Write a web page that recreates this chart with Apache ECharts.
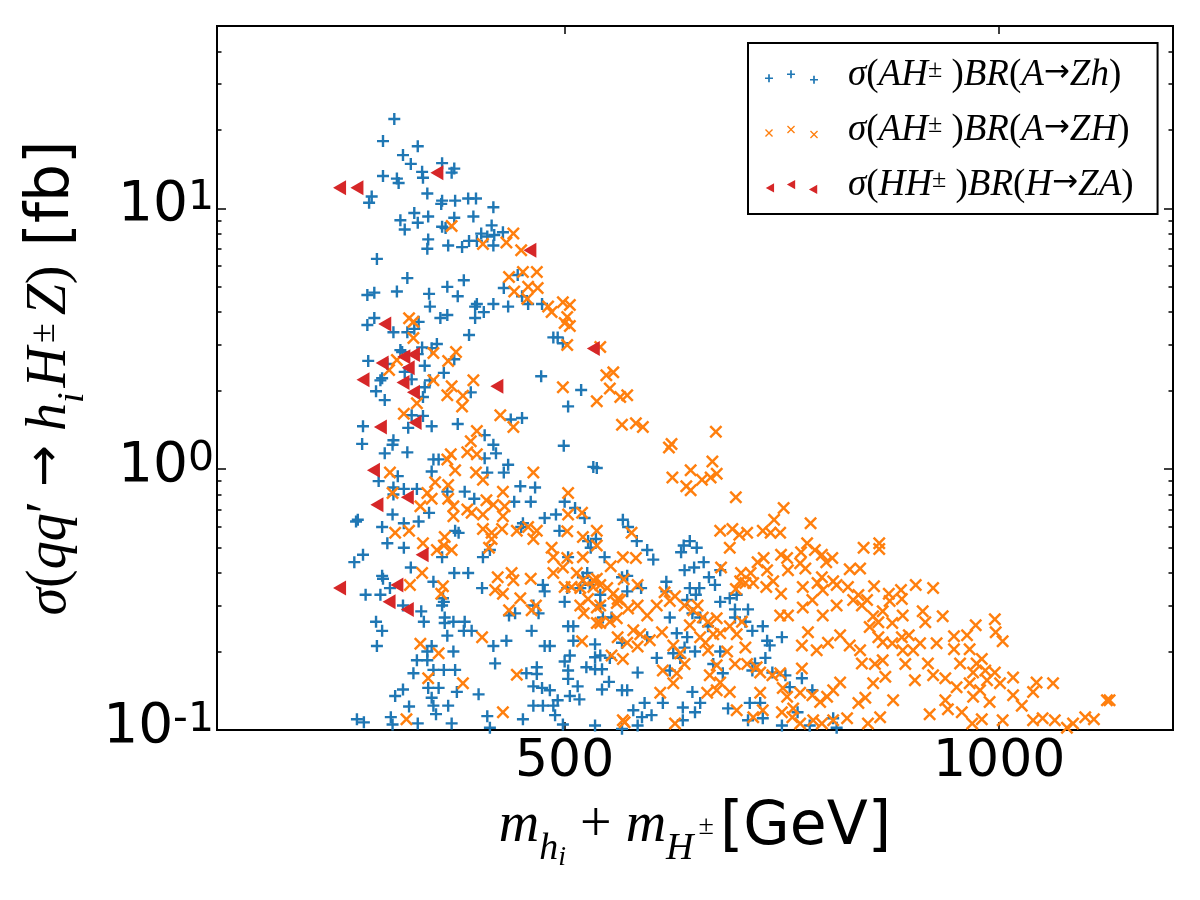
<!DOCTYPE html>
<html><head><meta charset="utf-8">
<script src="https://cdn.jsdelivr.net/npm/echarts@6/dist/echarts.min.js"></script>
<style>html,body{margin:0;padding:0;background:#fff}#c{width:1200px;height:900px}</style>
</head><body><div id="c"></div>
<script>
// ---- data (x: m_hi + m_H± in GeV, y: sigma*BR in fb) ----
const xTicks = [500, 1000];
const yTicks = [0.1, 1, 10];
const yMinorTicks = [0.2,0.3,0.4,0.5,0.6,0.7,0.8,0.9,2,3,4,5,6,7,8,9,20,30,40];
const seriesNames = ['σ(AH±)BR(A→Zh)', 'σ(AH±)BR(A→ZH)', 'σ(HH±)BR(H→ZA)'];

const zhPoints = [[304,22.0],[291,18.1],[331,17.3],[314,16.0],[323,14.8],[359,14.9],[336,13.8],[373,14.2],[370,13.7],[291,13.3],[307,13.0],[309,12.5],[337,13.1],[278,11.1],[275,10.5],[342,11.4],[359,10.7],[358,10.4],[374,10.7],[389,10.9],[398,10.9],[418,10.1],[327,9.6],[343,9.3],[311,9.0],[331,8.8],[316,8.3],[359,8.5],[363,8.4],[373,9.2],[395,9.3],[416,8.6],[404,8.0],[411,7.8],[419,7.9],[429,8.1],[343,7.6],[342,7.0],[366,7.2],[382,7.1],[390,7.5],[399,7.5],[418,7.2],[284,6.4],[319,5.4],[365,5.0],[384,5.3],[273,4.65],[281,4.75],[307,4.8],[344,4.7],[377,4.6],[399,4.3],[397,4.2],[418,4.3],[430,4.95],[435,4.2],[446,5.55],[451,4.6],[458,4.3],[474,4.3],[281,3.8],[357,3.8],[365,3.9],[397,3.8],[407,4.0],[345,4.2],
[273,3.57],[303,3.35],[319,3.35],[327,3.45],[332,3.67],[390,3.27],[487,3.2],[492,3.2],[498,3.04],[311,2.86],[313,2.81],[336,2.93],[331,2.76],[347,2.91],[353,3.02],[274,2.6],[296,2.53],[316,2.36],[339,2.49],[361,2.34],[373,2.64],[288,2.19],[290,2.23],[324,2.21],[345,2.19],[473,2.27],[283,1.99],[293,1.84],[339,2.06],[337,1.89],[392,1.97],[519,2.01],[504,1.74],[324,1.61],[337,1.6],[438,1.55],[451,1.57],[268,1.46],[320,1.44],[347,1.46],[377,1.49],[267,1.25],[303,1.29],[302,1.24],[293,1.15],[319,1.16],[408,1.35],[418,1.24],[421,1.15],[499,1.23],[349,1.09],[355,1.09],[408,1.1],[347,0.98],[411,0.97],[430,0.97],[435,1.04],[533,1.02],[537,1.01],[286,0.90],[308,0.94],[303,0.85],[315,0.84],[330,0.84],[365,0.82],[385,0.82],[303,0.80],[396,0.77],[442,0.75],[461,0.75],[449,0.86],[466,0.85],[500,0.75],[512,0.71],[523,0.65],[302,0.67],[262,0.64],[260,0.63],[290,0.60],[315,0.62],[332,0.63],[344,0.68],[450,0.60],[452,0.62],[477,0.65],[490,0.67],[494,0.58],[296,0.52],[315,0.50],[374,0.58],[378,0.57],[527,0.53],[530,0.50],[536,0.54],[258,0.44],[268,0.47],[359,0.46],[406,0.46],[414,0.49],[504,0.46],[323,0.42],[290,0.39],[291,0.38],[373,0.40],[389,0.40],[526,0.40],[271,0.33],[288,0.33],[299,0.35],[349,0.37],[405,0.35],[475,0.36],[477,0.34],[503,0.35],[518,0.35],
[314,0.30],[360,0.32],[361,0.31],[359,0.30],[335,0.285],[338,0.26],[362,0.27],[362,0.257],[372,0.26],[385,0.26],[384,0.24],[393,0.24],[283,0.26],[290,0.24],[284,0.21],[365,0.23],[436,0.275],[443,0.28],[470,0.28],[464,0.30],[462,0.24],[500,0.31],[504,0.25],[510,0.25],[510,0.22],[477,0.21],[483,0.21],[433,0.22],[418,0.21],[420,0.18],[372,0.20],[347,0.21],[342,0.20],[330,0.185],[342,0.185],[349,0.17],[361,0.17],[374,0.17],[326,0.165],[305,0.135],[314,0.143],[343,0.145],[355,0.145],[347,0.133],[349,0.124],[366,0.124],[376,0.14],[321,0.123],[352,0.115],[401,0.137],[411,0.113],[456,0.165],[468,0.174],[468,0.164],[464,0.147],[474,0.145],[483,0.142],[464,0.124],[475,0.124],[487,0.124],[492,0.13],[506,0.135],[517,0.131],[489,0.114],[500,0.183],[504,0.169],[504,0.157],[515,0.147],[525,0.174],[535,0.19],[535,0.213],[452,0.11],[261,0.11],[269,0.107],[300,0.112],[302,0.105],[331,0.106],[370,0.106],[414,0.102],[498,0.105],[535,0.104],[535,0.171],
[521,0.385],[529,0.36],[541,0.33],[541,0.30],[544,0.27],[554,0.27],[566,0.385],[572,0.34],[572,0.39],[546,0.46],[541,0.193],[552,0.189],[543,0.171],[551,0.153],[506,0.193],[543,0.143],[566,0.142],[572,0.142],[566,0.101],[567,0.64],[573,0.60],
[583,0.53],[595,0.49],[602,0.45],[634,0.48],[637,0.51],[644,0.53],[652,0.50],[588,0.35],[638,0.41],[649,0.42],[660,0.44],[666,0.385],[679,0.41],[644,0.35],[655,0.35],[673,0.36],[617,0.37],[690,0.32],[698,0.33],[651,0.33],[617,0.34],
[641,0.315],[679,0.31],[696,0.29],[711,0.29],[696,0.27],[708,0.26],[728,0.25],[716,0.24],[665,0.25],[656,0.27],[647,0.28],[621,0.27],[641,0.227],[638,0.207],[650,0.20],[625,0.197],[633,0.189],[621,0.169],[606,0.189],[584,0.166],[595,0.227],[566,0.216],[733,0.22],[736,0.211],[750,0.227],[731,0.189],[719,0.18],[716,0.169],[739,0.166],[754,0.162],[773,0.158],[679,0.20],[682,0.165],[671,0.179],[613,0.127],[647,0.14],[656,0.127],[688,0.121],[713,0.127],[725,0.127],[711,0.109],[728,0.111],[759,0.146],[785,0.142],[782,0.104],[768,0.117],[750,0.104],[813,0.102],[809,0.111],[579,0.119],[589,0.112],[600,0.114],[592,0.127],[650,0.117],[636,0.109],[584,0.104],[629,0.235],[636,0.122]];

const zHPoints = [[370,8.55],[441,8.0],[406,7.3],[433,7.4],[450,6.9],[436,5.45],[452,5.7],[468,5.7],[458,5.0],[469,4.95],[442,4.8],[457,4.5],[481,4.2],[485,4.0],[498,4.36],[506,4.26],[321,3.79],[503,3.83],
[326,3.67],[326,3.18],[349,2.79],[375,2.81],[366,2.6],[307,2.62],[298,2.40],[349,2.19],[370,2.08],[395,2.19],[365,1.92],[383,1.91],[382,1.74],[330,1.79],[315,1.63],[426,1.61],[441,1.45],[498,2.06],[537,1.82],[503,2.99],[506,3.54],[500,3.63],[399,1.40],[392,1.28],[388,1.16],[399,1.14],[369,1.14],[365,1.09],[374,0.99],[398,0.97],[406,0.91],[464,0.97],[299,0.97],[351,0.89],[302,0.81],[366,0.87],[342,0.81],[347,0.77],[366,0.77],[334,0.72],[372,0.72],[372,0.66],[388,0.70],[393,0.68],[406,0.67],[410,0.76],[418,0.73],[429,0.82],[431,0.72],[429,0.66],[428,0.59],[406,0.59],[416,0.57],[416,0.54],[305,0.57],[321,0.58],[337,0.52],[353,0.49],[361,0.51],[370,0.49],[362,0.55],[445,0.58],[458,0.60],[468,0.58],[504,0.81],[504,0.67],[520,0.68],[503,0.578],[521,0.55],[537,0.58],[537,0.51],[485,0.50],[487,0.46],[498,0.42],[521,0.46],[514,0.40],[464,0.54],[413,0.50],[336,0.40],[423,0.385],[439,0.40],[441,0.375],[461,0.38],[487,0.40],[500,0.353],[508,0.353],[537,0.38],[533,0.353],[322,0.36],[360,0.356],[358,0.333],[420,0.344],[429,0.333],[449,0.32],
[436,0.288],[462,0.288],[467,0.30],[518,0.35],[518,0.30],[522,0.28],[537,0.295],[405,0.227],[334,0.214],[355,0.197],[343,0.158],[383,0.151],[445,0.163],[318,0.11],[429,0.117],[520,0.219],[537,0.257],
[503,0.456],[521,0.375],[533,0.375],[541,0.36],[549,0.35],[556,0.333],[561,0.318],[527,0.318],[541,0.30],[560,0.307],[541,0.257],[552,0.26],[560,0.268],[561,0.227],[554,0.193],[567,0.187],[569,0.107],
[552,2.04],[564,1.89],[572,1.92],[566,1.48],[567,0.46],
[541,2.94],[548,2.29],[556,2.35],[582,1.50],[590,1.45],[620,1.21],[623,1.25],[674,1.39],[670,1.07],[624,0.93],[645,0.99],[640,0.86],[645,0.83],[658,0.91],[668,0.93],[675,0.96],[697,0.78],[752,0.71],[741,0.64],[783,0.62],[679,0.58],[693,0.59],[701,0.56],[710,0.57],[728,0.58],[737,0.57],[748,0.57],[844,0.50],[862,0.52],[862,0.494],[779,0.52],[788,0.49],[772,0.48],[796,0.47],[808,0.456],[801,0.44],[729,0.456],[749,0.47],[690,0.50],[722,0.44],[680,0.42],[771,0.436],[777,0.416],[828,0.413],[840,0.416],[757,0.41],[703,0.40],[714,0.40],[708,0.366],[582,0.456],[577,0.57],[553,0.424],[568,0.378],[584,0.36],[796,0.385],[791,0.366],[774,0.353],[813,0.36],[826,0.353],[856,0.356],[873,0.333],[887,0.344],[904,0.36],[924,0.35],[749,0.333],[732,0.353],[740,0.372],[697,0.347],
[756,0.456],[797,0.344],[809,0.372],[838,0.329],[848,0.315],[842,0.30],[832,0.315],[813,0.30],[797,0.275],[785,0.315],[774,0.295],[757,0.275],[748,0.275],[733,0.41],[702,0.372],[717,0.366],[564,0.315],[573,0.292],[584,0.30],[595,0.275],[606,0.30],[615,0.337],[621,0.312],[627,0.326],[638,0.30],[648,0.288],[653,0.30],[659,0.27],[665,0.26],[675,0.268],[671,0.233],[679,0.235],[690,0.25],[698,0.233],[704,0.26],[644,0.252],[656,0.227],[662,0.216],[625,0.211],[633,0.197],[638,0.179],[629,0.165],[625,0.151],[613,0.169],[612,0.237],[598,0.221],[587,0.233],[579,0.241],[572,0.216],[584,0.209],[665,0.202],[675,0.177],[687,0.20],[696,0.179],[710,0.179],[708,0.207],[721,0.174],[725,0.166],[739,0.162],[748,0.165],[773,0.172],[667,0.162],[679,0.152],[780,0.237],[773,0.211],[790,0.202],[803,0.216],[817,0.231],[828,0.211],[840,0.202],[842,0.18],[857,0.179],[861,0.227],[855,0.151],[846,0.133],[838,0.127],[817,0.152],[809,0.142],[802,0.134],[794,0.128],[785,0.136],[771,0.139],[763,0.121],[756,0.134],[751,0.145],[750,0.117],[762,0.112],[771,0.106],[786,0.109],[796,0.106],[809,0.109],[825,0.111],[849,0.106],[725,0.139],[728,0.119],[717,0.112],[698,0.119],[690,0.14],[675,0.142],[664,0.139],[610,0.139],[627,0.106],[567,0.109],
[874,0.312],[888,0.318],[866,0.285],[855,0.273],[861,0.259],[877,0.257],[889,0.275],[912,0.285],[915,0.259],[935,0.273],[851,0.248],[866,0.217],[877,0.215],[888,0.227],[896,0.231],[889,0.202],[901,0.202],[909,0.215],[892,0.179],[866,0.185],[869,0.16],[918,0.18],[928,0.215],[903,0.155],[924,0.162],[938,0.158],[951,0.146],[948,0.229],[948,0.204],[963,0.231],[966,0.204],[973,0.252],[995,0.266],[996,0.237],[1004,0.219],[955,0.18],[974,0.18],[980,0.187],[984,0.169],[995,0.166],[986,0.155],[1001,0.151],[970,0.166],[966,0.151],[978,0.142],[970,0.134],[989,0.128],[1016,0.159],[1016,0.136],[1026,0.124],[1039,0.14],[1043,0.152],[1062,0.151],[1039,0.109],[1050,0.111],[1064,0.109],[1085,0.106],[1099,0.112],[1109,0.11],[1078,0.102],[1124,0.13],[1127,0.13],[938,0.13],[941,0.12],[957,0.117],[969,0.106],[980,0.11],[1004,0.109],[920,0.115],[878,0.13],[863,0.112]];

const zaPoints = [[241,12.0],[261,12.0],[353,13.7],[460,6.9],[293,3.6],[290,2.55],[315,2.7],[326,2.75],[320,2.45],[268,2.2],[314,2.15],[326,1.97],[422,2.08],[533,2.9],[288,1.45],[328,1.51],[280,0.99],[284,0.73],[319,0.78],[336,0.47],[241,0.35],[307,0.36],[298,0.31],[319,0.29]];

// ---- styling ----
const COLORS = ['#1f77b4', '#ff7f0e', '#d62728'];
const PLUS = 'path://M4,0h2v4h4v2h-4v4h-2v-4h-4v-2h4z';
const CROSS = 'path://M0,1.35L1.35,0L5,3.65L8.65,0L10,1.35L6.35,5L10,8.65L8.65,10L5,6.35L1.35,10L0,8.65L3.65,5Z';
const TRI = 'path://M0,5L8.66,0L8.66,10Z';

function plusAt(cx, cy, h, t) {
  return `M${cx-t},${cy-h}h${2*t}v${h-t}h${h-t}v${2*t}h${-(h-t)}v${h-t}h${-2*t}v${-(h-t)}h${-(h-t)}v${-2*t}h${h-t}z`;
}
function crossAt(cx, cy, h, t) {
  return `M${cx-h},${cy-h+t}L${cx-h+t},${cy-h}L${cx},${cy-t}L${cx+h-t},${cy-h}L${cx+h},${cy-h+t}L${cx+t},${cy}L${cx+h},${cy+h-t}L${cx+h-t},${cy+h}L${cx},${cy+t}L${cx-h+t},${cy+h}L${cx-h},${cy+h-t}L${cx-t},${cy}Z`;
}
function triAt(cx, cy, h) {
  return `M${cx-h},${cy}L${cx+h*0.8},${cy-h}L${cx+h*0.8},${cy+h}Z`;
}
const legendIcons = [
  'path://' + plusAt(4, 8, 4, 0.85) + plusAt(26, 4, 4, 0.85) + plusAt(49, 9.5, 4, 0.85),
  'path://' + crossAt(4, 8, 4, 0.95) + crossAt(26, 4.5, 4, 0.95) + crossAt(49, 9.5, 4, 0.95),
  'path://' + triAt(4, 8, 4.8) + triAt(26, 4.5, 4.8) + triAt(49, 9.5, 4.8)
];

const SERIF = 'Liberation Serif';
const richMath = {
  mi: {fontFamily: SERIF, fontStyle: 'italic', fontSize: 56, lineHeight: 66, verticalAlign: 'top', color: '#000'},
  mr: {fontFamily: SERIF, fontSize: 56, lineHeight: 66, verticalAlign: 'top', color: '#000'},
  ar: {fontFamily: 'DejaVu Sans', fontSize: 50, lineHeight: 66, verticalAlign: 'top', color: '#000'},
  sub: {fontFamily: SERIF, fontStyle: 'italic', fontSize: 38, lineHeight: 36, verticalAlign: 'top', padding: [32, 5, 0, 0], color: '#000'},
  sub2: {fontFamily: SERIF, fontStyle: 'italic', fontSize: 38, lineHeight: 36, verticalAlign: 'top', padding: [32, 0, 0, 0], color: '#000'},
  ssub: {fontFamily: SERIF, fontStyle: 'italic', fontSize: 28, lineHeight: 27, verticalAlign: 'top', padding: [46, 0, 0, 0], color: '#000'},
  sup: {fontFamily: SERIF, fontSize: 36, lineHeight: 20, verticalAlign: 'top', padding: [4, 8, 0, 4], color: '#000'},
  ssup: {fontFamily: SERIF, fontSize: 28, lineHeight: 27, verticalAlign: 'top', padding: [15, 6, 0, 5], color: '#000'},
  g: {fontFamily: 'DejaVu Sans', fontSize: 60, lineHeight: 66, verticalAlign: 'top', color: '#000'}
};

const legendRich = {
  i: {fontFamily: SERIF, fontStyle: 'italic', fontSize: 37, lineHeight: 40, verticalAlign: 'top', color: '#000'},
  r: {fontFamily: SERIF, fontSize: 37, lineHeight: 40, verticalAlign: 'top', color: '#000'},
  a: {fontFamily: 'DejaVu Sans', fontSize: 31, lineHeight: 40, verticalAlign: 'top', color: '#000'},
  s: {fontFamily: SERIF, fontSize: 26, lineHeight: 20, verticalAlign: 'top', color: '#000'}
};
const legendRichText = {
  'σ(AH±)BR(A→Zh)': '{i|σ}{r|(}{i|AH}{s|±}{r| )}{i|BR}{r|(}{i|A}{a|→}{i|Zh}{r|)}',
  'σ(AH±)BR(A→ZH)': '{i|σ}{r|(}{i|AH}{s|±}{r| )}{i|BR}{r|(}{i|A}{a|→}{i|ZH}{r|)}',
  'σ(HH±)BR(H→ZA)': '{i|σ}{r|(}{i|HH}{s|±}{r| )}{i|BR}{r|(}{i|H}{a|→}{i|ZA}{r|)}'
};

const tickLine = {color: '#000', width: 1.5};
function logAxis(pos, major, showLabel) {
  return {
    type: 'log', logBase: 10, min: 0.1, max: 50, position: pos,
    axisLine: {show: false}, splitLine: {show: false}, minorTick: {show: false},
    axisTick: {show: true, inside: true, length: major ? 9 : 4.5, lineStyle: tickLine,
               customValues: major ? yTicks : yMinorTicks},
    axisLabel: showLabel ? {
      show: true, customValues: yTicks, margin: 3,
      formatter: v => '{b|10}{s|' + Math.round(Math.log10(v)) + '}',
      rich: {
        b: {fontFamily: 'DejaVu Sans', fontSize: 55, lineHeight: 60, verticalAlign: 'top', color: '#000'},
        s: {fontFamily: 'DejaVu Sans', fontSize: 41, lineHeight: 33, verticalAlign: 'top', color: '#000'}
      }
    } : {show: false}
  };
}

const yAxes = [logAxis('left', true, true), logAxis('left', false, false), logAxis('right', true, false), logAxis('right', false, false)];
yAxes[0].name = '{mi|σ}{mr|(}{mi|qq}{mr|′ }{ar|→}{mi| h}{sub|i}{mi|H}{sup|±}{mi|Z}{mr|)}{g| [fb]}';
yAxes[0].nameLocation = 'middle';
yAxes[0].nameGap = 122;
yAxes[0].nameTextStyle = {rich: richMath};

const chart = echarts.init(document.getElementById('c'), null, {renderer: 'canvas'});
chart.setOption({
  animation: false,
  backgroundColor: '#fff',
  grid: {left: 217, top: 26, width: 956, height: 704, show: true, borderColor: '#000', borderWidth: 2, backgroundColor: 'transparent'},
  xAxis: [
    {type: 'value', min: 100, max: 1200, position: 'bottom',
     axisLine: {show: false}, splitLine: {show: false},
     axisTick: {show: true, inside: true, length: 8, lineStyle: tickLine, customValues: xTicks},
     axisLabel: {show: true, customValues: xTicks, margin: 6, fontFamily: 'DejaVu Sans', fontSize: 52, color: '#000',
                 formatter: v => String(v)},
     name: '{mi|m}{sub2|h}{ssub|i}{mr| + }{mi|m}{sub2|H}{ssup|±}{g|[GeV]}',
     nameLocation: 'middle', nameGap: 68, nameTextStyle: {rich: richMath}},
    {type: 'value', min: 100, max: 1200, position: 'top',
     axisLine: {show: false}, splitLine: {show: false},
     axisTick: {show: true, inside: true, length: 8, lineStyle: tickLine, customValues: xTicks},
     axisLabel: {show: false}}
  ],
  yAxis: yAxes,
  legend: {
    orient: 'vertical', left: 748, top: 43, padding: [14, 24, 10, 17], itemGap: 18,
    itemWidth: 53, itemHeight: 14, borderColor: '#000', borderWidth: 2, backgroundColor: '#fff',
    selectedMode: false,
    formatter: name => legendRichText[name],
    textStyle: {padding: [0, 0, 0, 25], rich: legendRich},
    data: seriesNames.map((n, i) => ({name: n, icon: legendIcons[i]}))
  },
  series: [
    {name: seriesNames[0], type: 'scatter', data: zhPoints, symbol: PLUS, symbolSize: 12,
     itemStyle: {color: COLORS[0], opacity: 1}, z: 3, emphasis: {disabled: true}},
    {name: seriesNames[1], type: 'scatter', data: zHPoints, symbol: CROSS, symbolSize: 13,
     itemStyle: {color: COLORS[1], opacity: 1}, z: 4, emphasis: {disabled: true}},
    {name: seriesNames[2], type: 'scatter', data: zaPoints, symbol: TRI, symbolSize: [13, 15],
     itemStyle: {color: COLORS[2], opacity: 1}, z: 5, emphasis: {disabled: true}}
  ]
});
</script>
</body></html>
